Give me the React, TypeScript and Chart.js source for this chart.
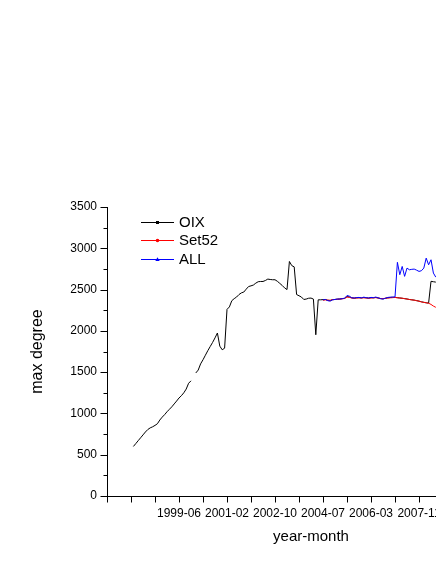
import { useEffect, useRef } from 'react';
import { Chart, registerables } from 'chart.js';

Chart.register(...registerables);

const FONT = '"Liberation Sans", Arial, Helvetica, sans-serif';

// x axis: month index (0 = 1997-10)
const xTickValues = [-10, 0, 10, 20, 30, 40, 50, 60, 70, 80, 90, 100, 110, 120, 130, 140, 150, 160];
const xLabelValues = [20, 40, 60, 80, 100, 120];
const xLabels = ['1999-06', '2001-02', '2002-10', '2004-07', '2006-03', '2007-11'];
const yTickValues = [0, 500, 1000, 1500, 2000, 2500, 3000, 3500];

const seriesNames = ['OIX', 'Set52', 'ALL'];
const seriesColors = ['#000000', '#ff0000', '#0000ff'];

const oixStart = 1;
const oixValues: (number | null)[] = [
  600, 635, 670, 705, 740, 775, 805, 825, 838, 855,
  875, 920, 955, 985, 1020, 1050, 1080, 1115, 1150, 1187,
  1215, 1250, 1295, 1365, 1395, null, 1490, 1525, 1600, 1650,
  1705, 1760, 1810, 1860, 1915, 1974, 1815, 1771, 1790, 2260,
  2290, 2365, 2390, 2410, 2440, 2460, 2470, 2505, 2537, 2545,
  2555, 2578, 2595, 2598, 2598, 2610, 2627, 2622, 2619, 2619,
  2600, 2575, 2550, 2520, 2500, 2840, 2790, 2775, 2440, 2425,
  2410, 2380, 2385, 2395, 2397, 2385, 1953, 2376, 2376, 2378,
  2380, 2370, 2368, 2378, 2380, 2384, 2386, 2390, 2394, 2415,
  2410, 2400, 2396, 2400, 2402, 2398, 2404, 2400, 2396, 2402,
  2400, 2405, 2398, 2390, 2388, 2394, 2400, 2404, 2406, 2405,
  2402, 2398, 2395, 2390, 2386, 2380, 2376, 2372, 2366, 2360,
  2352, 2346, 2340, 2336, 2600, 2595, 2590,
];

const set52Start = 80;
const set52Values = [
  2370, 2375, 2372, 2370, 2378, 2380, 2382, 2385, 2388, 2392,
  2410, 2405, 2398, 2395, 2398, 2400, 2398, 2400, 2398, 2395,
  2398, 2400, 2402, 2398, 2392, 2390, 2395, 2398, 2400, 2402,
  2405, 2400, 2398, 2395, 2390, 2385, 2380, 2375, 2372, 2365,
  2360, 2350, 2345, 2340, 2335, 2320, 2300, 2285,
];

const allStart = 80;
const allValues = [
  2376, 2380, 2365, 2360, 2376, 2380, 2385, 2385, 2390, 2395,
  2428, 2420, 2400, 2398, 2403, 2405, 2400, 2408, 2402, 2398,
  2405, 2402, 2409, 2400, 2390, 2385, 2395, 2405, 2408, 2410,
  2410, 2830, 2680, 2780, 2660, 2760, 2740, 2745, 2748, 2735,
  2720, 2728, 2760, 2881, 2800, 2861, 2700, 2650,
];

const toPoints = (start: number, vals: (number | null)[]) =>
  vals.map((v, k) => ({ x: start + k, y: v }));

const tickPlugin = {
  id: 'originTicks',
  afterDraw(chart: any) {
    const { ctx } = chart;
    const xs = chart.scales.x;
    const ys = chart.scales.y;
    ctx.save();
    ctx.strokeStyle = '#000';
    ctx.lineWidth = 1;
    ctx.beginPath();
    const left = Math.round(xs.left) + 0.5;
    for (let k = 0; k < yTickValues.length; k++) {
      const v = yTickValues[k];
      const p = Math.round(ys.getPixelForValue(v)) + 0.5;
      ctx.moveTo(left - 7, p);
      ctx.lineTo(left, p);
      if (k < yTickValues.length - 1) {
        const mid = (v + yTickValues[k + 1]) / 2;
        const pm = Math.round(ys.getPixelForValue(mid)) + 0.5;
        ctx.moveTo(left - 4, pm);
        ctx.lineTo(left, pm);
      }
    }
    const bottom = Math.round(ys.bottom) + 0.5;
    for (const v of xTickValues) {
      const p = Math.round(xs.getPixelForValue(v)) + 0.5;
      ctx.moveTo(p, bottom);
      ctx.lineTo(p, bottom + 6);
    }
    ctx.stroke();
    ctx.restore();
  },
};

const legendPlugin = {
  id: 'originLegend',
  afterDraw(chart: any) {
    const { ctx } = chart;
    const rows = [222.5, 240.5, 259.5];
    ctx.save();
    seriesNames.forEach((name, k) => {
      const y = rows[k];
      const color = seriesColors[k];
      ctx.strokeStyle = color;
      ctx.lineWidth = 1;
      ctx.beginPath();
      ctx.moveTo(141, y);
      ctx.lineTo(174, y);
      ctx.stroke();
      ctx.fillStyle = color;
      const cx = 157.5;
      if (k === 0) {
        ctx.fillRect(cx - 1.5, y - 1.5, 3, 3);
      } else if (k === 1) {
        ctx.beginPath();
        ctx.arc(cx, y, 1.8, 0, Math.PI * 2);
        ctx.fill();
      } else {
        ctx.beginPath();
        ctx.moveTo(cx, y - 2.2);
        ctx.lineTo(cx + 2.2, y + 1.6);
        ctx.lineTo(cx - 2.2, y + 1.6);
        ctx.closePath();
        ctx.fill();
      }
      ctx.fillStyle = '#000';
      ctx.font = `15px ${FONT}`;
      ctx.textBaseline = 'middle';
      ctx.textAlign = 'left';
      ctx.fillText(name, 179, y);
    });
    ctx.restore();
  },
};

export default function App() {
  const ref = useRef<HTMLCanvasElement | null>(null);

  useEffect(() => {
    if (!ref.current) return;
    const lineDs = (k: number, data: any[], order: number) => ({
      label: seriesNames[k],
      data,
      borderColor: seriesColors[k],
      backgroundColor: seriesColors[k],
      borderWidth: 1,
      pointRadius: 0,
      tension: 0,
      spanGaps: false,
      fill: false,
      order,
    });
    const chart = new Chart(ref.current, {
      type: 'line',
      data: {
        datasets: [
          lineDs(2, toPoints(allStart, allValues), 0),
          lineDs(1, toPoints(set52Start, set52Values), 1),
          lineDs(0, toPoints(oixStart, oixValues), 2),
        ],
      },
      options: {
        animation: false,
        responsive: false,
        devicePixelRatio: 1,
        layout: { padding: { top: 207, right: 15, bottom: 0, left: 0 } },
        plugins: { legend: { display: false }, tooltip: { enabled: false } },
        scales: {
          x: {
            type: 'linear',
            min: -10,
            max: 160,
            afterBuildTicks: (s: any) => {
              s.ticks = xTickValues.map((v) => ({ value: v }));
            },
            afterFit: (s: any) => {
              s.height = 68;
            },
            ticks: {
              autoSkip: false,
              maxRotation: 0,
              minRotation: 0,
              padding: 3,
              color: '#000',
              font: { family: FONT, size: 12 },
              callback: (v: any) => {
                const k = xLabelValues.indexOf(Number(v));
                return k >= 0 ? xLabels[k] : '';
              },
            },
            grid: { drawOnChartArea: false, drawTicks: true, tickLength: 7, color: 'rgba(0,0,0,0)' },
            border: { display: true, color: '#000', width: 1 },
            title: {
              display: true,
              text: 'year-month',
              color: '#000',
              font: { family: FONT, size: 15 },
              padding: { top: 0, bottom: 18.5 },
            },
          },
          y: {
            type: 'linear',
            min: 0,
            max: 3500,
            afterBuildTicks: (s: any) => {
              s.ticks = yTickValues.map((v) => ({ value: v }));
            },
            afterFit: (s: any) => {
              s.width = 107;
            },
            ticks: {
              padding: 3,
              color: '#000',
              font: { family: FONT, size: 12 },
              callback: (v: any) => String(v),
            },
            grid: { drawOnChartArea: false, drawTicks: true, tickLength: 7, color: 'rgba(0,0,0,0)' },
            border: { display: true, color: '#000', width: 1 },
            title: {
              display: true,
              text: 'max degree',
              color: '#000',
              font: { family: FONT, size: 16 },
              padding: { top: 28, bottom: 0 },
            },
          },
        },
      },
      plugins: [tickPlugin, legendPlugin],
    } as any);
    return () => chart.destroy();
  }, []);

  return (
    <div
      style={{
        position: 'fixed',
        left: 0,
        top: 0,
        width: 436,
        height: 564,
        overflow: 'hidden',
        background: '#fff',
      }}
    >
      <canvas ref={ref} width={530} height={564} style={{ display: 'block', width: 530, height: 564 }} />
    </div>
  );
}
